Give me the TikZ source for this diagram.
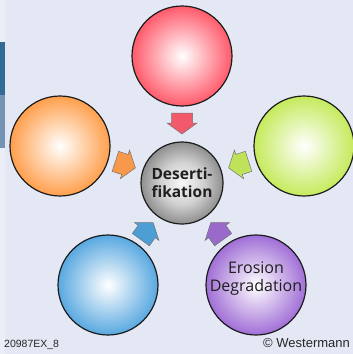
\documentclass[tikz,border=0pt]{standalone}
\usepackage{fontspec}
\setmainfont{Open Sans}
\newfontfamily\creditfont{Liberation Sans}

% page and accent colours
\definecolor{pagebg}{HTML}{E3E8F4}
\definecolor{stripbg}{HTML}{ECEEF7}
\definecolor{bardark}{HTML}{336B98}
\definecolor{barlight}{HTML}{7593B3}
\definecolor{rimline}{HTML}{1C1C1C}

% sphere colours (rim) and arrow colours
\definecolor{redrim}{HTML}{FF5A6B}
\definecolor{orangerim}{HTML}{FF9F4C}
\definecolor{greenrim}{HTML}{C5EA5C}
\definecolor{bluerim}{HTML}{58A8E0}
\definecolor{purplerim}{HTML}{A06ED6}
\definecolor{greyrim}{HTML}{8E8E8E}
\definecolor{redarrow}{HTML}{F2596B}
\definecolor{orangearrow}{HTML}{F7984B}
\definecolor{greenarrow}{HTML}{BEE35A}
\definecolor{bluearrow}{HTML}{4E9ED6}
\definecolor{purplearrow}{HTML}{9A6ACB}

% white-centred radial shadings for the spheres (25bp = sphere rim)
\newcommand{\spherefade}[2]{%
  \pgfdeclareradialshading{#1}{\pgfpoint{0bp}{0bp}}{%
    color(0bp)=(white); color(3bp)=(white!88!#2); color(13bp)=(#2!52!white);
    color(25bp)=(#2); color(50bp)=(#2)}}
\spherefade{sphred}{redrim}
\spherefade{sphorange}{orangerim}
\spherefade{sphgreen}{greenrim}
\spherefade{sphblue}{bluerim}
\spherefade{sphpurple}{purplerim}
\pgfdeclareradialshading{sphgrey}{\pgfpoint{0bp}{0bp}}{%
  color(0bp)=(white!97!black); color(13bp)=(white!82!black);
  color(25bp)=(greyrim); color(50bp)=(greyrim)}

\tikzset{
  sphere/.style={circle, draw=rimline, line width=1.2pt, minimum size=100pt, inner sep=0pt},
  coresphere/.style={sphere, minimum size=82pt},
  blockarrow/.style={draw=black!55, line width=0.5pt, line join=miter},
  corelabel/.style={font=\bfseries\fontsize{15.5}{18}\selectfont, text=black!88, align=center},
  outerlabel/.style={font=\fontsize{16}{18}\selectfont, text=black!88, align=center},
  creditlabel/.style={font=\creditfont\fontsize{10.5}{12}\selectfont, inner sep=0pt, text=black!85}
}

\begin{document}
\begin{tikzpicture}[x=1pt,y=-1pt]
  \useasboundingbox (0,0) rectangle (353,354);
  \clip (0,0) rectangle (353,354);

  % background and left margin strip
  \fill[pagebg] (0,0) rectangle (353,354);
  \fill[stripbg] (0,0) rectangle (5,354);
  \fill[bardark] (0,42) rectangle (5,95);
  \fill[barlight] (0,95) rectangle (5,148);

  % spheres
  \node[coresphere, shading=sphgrey] (core) at (182,183) {};
  \node[sphere, shading=sphred] (top) at (182,56) {};
  \node[sphere, shading=sphorange] (left) at (60,146) {};
  \node[sphere, shading=sphgreen] (right) at (304,146) {};
  \node[sphere, shading=sphblue] (botleft) at (108,285) {};
  \node[sphere, shading=sphpurple] (botright) at (256,285) {};

  % block arrows pointing to the centre
  \foreach \ang/\col in {0/redarrow, 72/orangearrow, 144/bluearrow, 216/purplearrow, 288/greenarrow}{
    \begin{scope}[shift={(core.center)}, rotate=\ang]
      \filldraw[blockarrow, fill=\col]
        (-10.5,-70) -- (10.5,-70) -- (10.5,-60) -- (15,-60) -- (0,-49)
        -- (-15,-60) -- (-10.5,-60) -- cycle;
    \end{scope}
  }

  % labels
  \node[corelabel] at (core.center) {Deserti-\\fikation};
  \node[outerlabel] at ([yshift=6pt]botright.center) {Erosion\\Degradation};

  % credit lines
  \node[creditlabel, anchor=base west] (code) at (4,347) {20987EX\_8};
  \node[creditlabel, anchor=base west, font=\creditfont\fontsize{13}{15}\selectfont] (copy) at (263,347) {\textcopyright{} Westermann};
\end{tikzpicture}
\end{document}
